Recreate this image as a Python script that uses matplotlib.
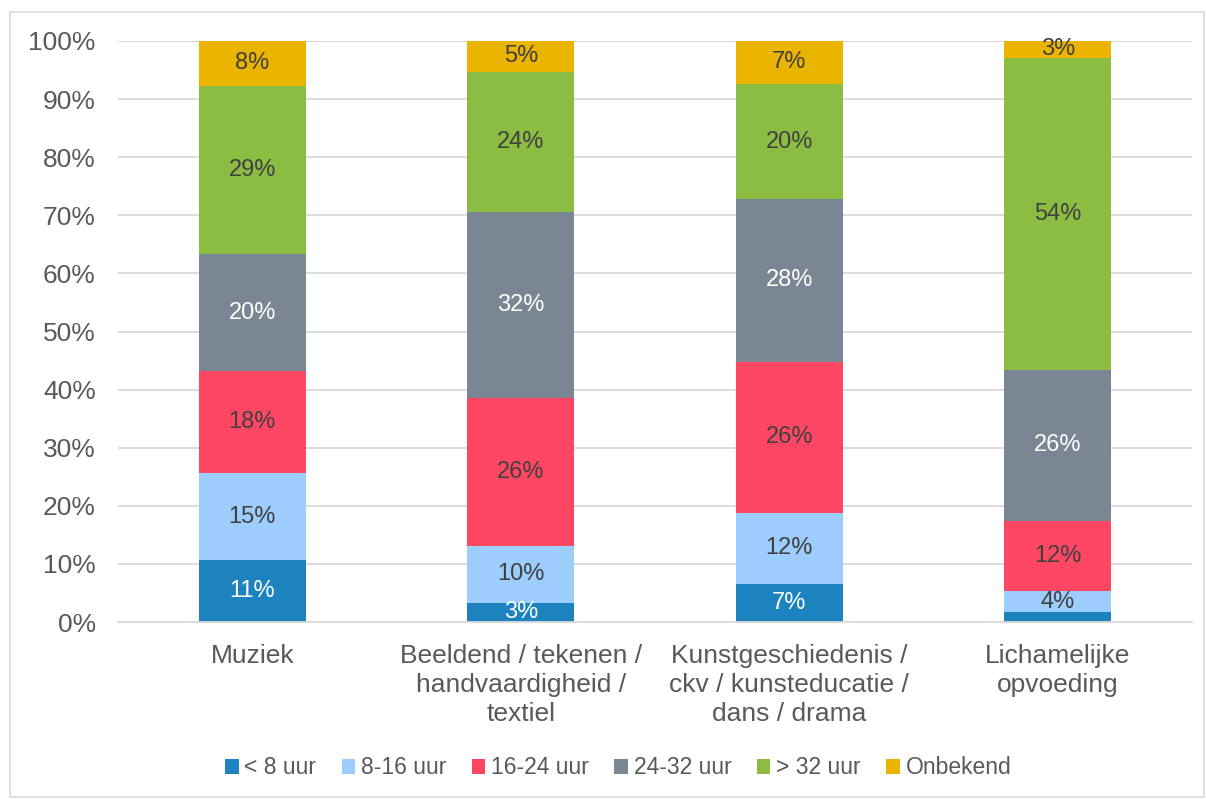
import numpy as np
import matplotlib.pyplot as plt
from matplotlib.patches import Rectangle

plt.rcParams['font.family'] = ['Liberation Sans', 'DejaVu Sans']

vakken = ["Muziek", "Beeldend / tekenen /\nhandvaardigheid /\ntextiel",
          "Kunstgeschiedenis /\nckv / kunsteducatie /\ndans / drama",
          "Lichamelijke\nopvoeding"]
reeksen = ["< 8 uur", "8-16 uur", "16-24 uur", "24-32 uur", "> 32 uur", "Onbekend"]

lt8 = [10.6, 3.3, 6.6, 1.7]
u8_16 = [15.0, 9.8, 12.2, 3.6]
u16_24 = [17.6, 25.5, 26.0, 12.1]
u24_32 = [20.1, 32.0, 28.0, 26.0]
gt32 = [29.0, 24.1, 19.8, 53.7]
onbekend = [7.7, 5.3, 7.4, 2.9]

kleuren = ["#1C83BE", "#9DCDFD", "#FF4763", "#7A8694", "#8CBD43", "#EBB400"]
tekstkleur = ["white", "#404040", "#404040", "white", "#404040", "#404040"]

data = [lt8, u8_16, u16_24, u24_32, gt32, onbekend]

fig = plt.figure(figsize=(12.06, 7.99), dpi=100)
ax = fig.add_axes([118/1206, 1-622/799, (1192-118)/1206, (622-41)/799])

x = np.arange(len(vakken))
bodem = np.zeros(len(vakken))
for i, vals in enumerate(data):
    vals = np.array(vals)
    ax.bar(x, vals / 100, 0.4, bottom=bodem / 100, color=kleuren[i], label=reeksen[i], zorder=2)
    for j in range(len(vakken)):
        if vals[j] >= 2.5:
            ax.text(x[j], (bodem[j] + vals[j] / 2) / 100, f"{round(vals[j])}%", ha="center", va="center",
                    fontsize=17, color=tekstkleur[i], zorder=3)
    bodem += vals

ax.set_xlim(-0.5, 3.5)
ax.set_ylim(0, 1)
ax.set_yticks(np.arange(0, 1.01, 0.1))
ax.set_yticklabels([f"{v}%" for v in range(0, 101, 10)])
ax.set_xticks(x)
ax.set_xticklabels(vakken, linespacing=1.25)
ax.tick_params(axis="y", length=0, pad=16, labelsize=19, labelcolor="#595959")
ax.tick_params(axis="x", length=0, pad=16, labelsize=19, labelcolor="#595959")
ax.grid(axis="y", color="#D9D9D9", linewidth=1.3, zorder=0)
for s in ["top", "right", "left"]:
    ax.spines[s].set_visible(False)
ax.spines["bottom"].set_color("#D9D9D9")
ax.spines["bottom"].set_linewidth(1.3)

leg = fig.legend(loc="center", bbox_to_anchor=(618/1206, 1-768/799), ncol=6, frameon=False,
                 fontsize=16.5, handlelength=0.6, handleheight=0.6, handletextpad=0.25,
                 columnspacing=1.1, labelcolor="#595959")

fig.patches.append(Rectangle((10/1206, 2/799), 1194/1206, 785/799, transform=fig.transFigure,
                             fill=False, edgecolor="#D9D9D9", linewidth=1.2))

fig.savefig("out.png", dpi=100)
